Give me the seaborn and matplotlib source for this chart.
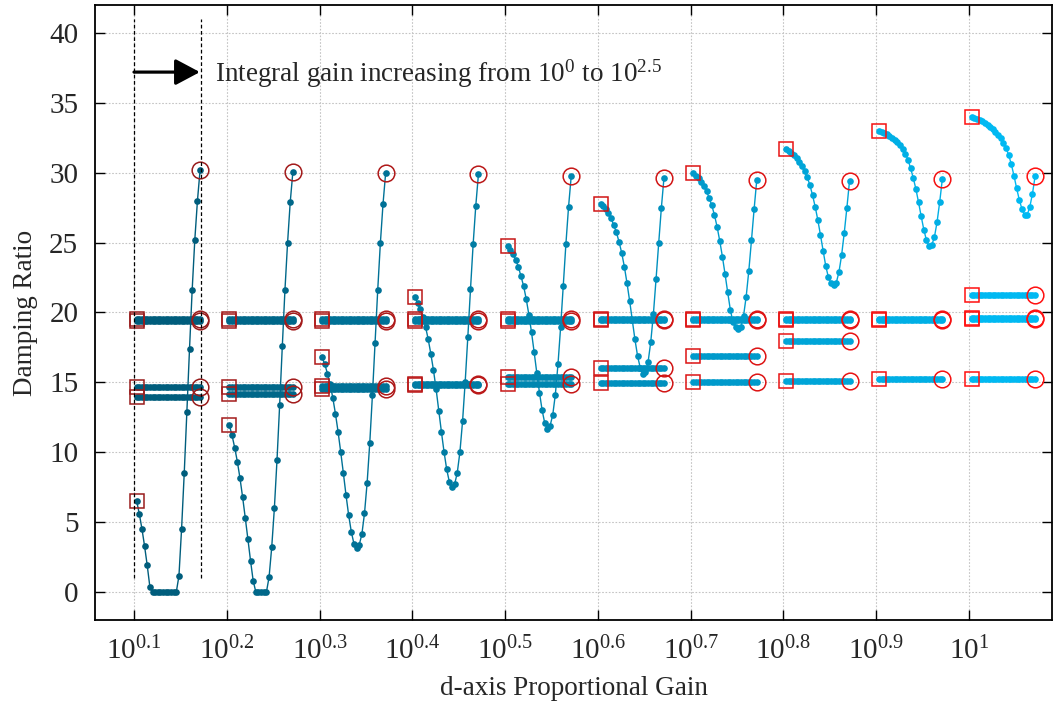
import numpy as np
import pandas as pd
import matplotlib
matplotlib.use("Agg")
import matplotlib.pyplot as plt
import matplotlib.colors as mcolors
import seaborn as sns

# ---------------- data ----------------
kp_exponents = [0.1, 0.2, 0.3, 0.4, 0.5, 0.6, 0.7, 0.8, 0.9, 1.0]
ki_exponents = [0.1, 0.2, 0.3, 0.4, 0.5, 0.6, 0.7, 0.8, 0.9, 1.0,
                1.1, 1.2, 1.3, 1.4, 1.5, 1.6, 1.7, 1.8, 1.9, 2.0,
                2.1, 2.2, 2.3, 2.4, 2.5]
tick_labels = [r"$10^{0.1}$", r"$10^{0.2}$", r"$10^{0.3}$", r"$10^{0.4}$",
               r"$10^{0.5}$", r"$10^{0.6}$", r"$10^{0.7}$", r"$10^{0.8}$",
               r"$10^{0.9}$", r"$10^{1}$"]

# varying branch (one per proportional gain), damping ratio vs integral gain
v_kp01 = [6.52, 5.60, 4.53, 3.29, 1.91, 0.38, 0, 0, 0, 0, 0, 0, 0, 0, 0, 0,
          1.15, 4.53, 8.50, 12.90, 17.40, 21.60, 25.20, 28.00, 30.20]
v_kp02 = [11.93, 11.20, 10.33, 9.33, 8.14, 6.78, 5.30, 3.77, 2.22, 0.79,
          0, 0, 0, 0, 0, 1.07, 3.20, 5.99, 9.45, 13.39, 17.57, 21.60, 25.00,
          27.90, 30.07]
v_kp03 = [16.78, 16.28, 15.63, 14.87, 13.91, 12.77, 11.48, 10.02, 8.52, 6.95,
          5.51, 4.32, 3.46, 3.15, 3.37, 4.13, 5.63, 7.83, 10.69, 14.10, 17.85,
          21.60, 24.96, 27.76, 29.98]
v_kp04 = [21.12, 20.67, 20.24, 19.69, 18.97, 18.09, 17.04, 15.87, 14.51, 12.98,
          11.46, 10.02, 8.78, 7.88, 7.52, 7.71, 8.54, 10.02, 12.22, 15.06,
          18.28, 21.67, 24.89, 27.64, 29.88]
v_kp05 = [24.77, 24.46, 24.15, 23.79, 23.27, 22.60, 21.89, 20.95, 19.83, 18.57,
          17.14, 15.66, 14.27, 13.01, 12.08, 11.69, 11.89, 12.65, 14.13, 16.30,
          18.97, 21.93, 24.92, 27.57, 29.74]
v_kp06 = [27.76, 27.59, 27.37, 27.11, 26.73, 26.25, 25.73, 25.06, 24.27, 23.29,
          22.12, 20.84, 19.47, 18.09, 16.90, 16.06, 15.58, 15.75, 16.47, 17.90,
          19.90, 22.39, 24.96, 27.47, 29.64]
v_kp07 = [29.95, 29.80, 29.60, 29.35, 29.05, 28.67, 28.20, 27.66, 26.97, 26.13,
          25.12, 24.00, 22.76, 21.45, 20.20, 19.30, 18.95, 18.85, 18.95, 19.76,
          21.14, 23.00, 25.17, 27.40, 29.48]
v_kp08 = [31.67, 31.57, 31.43, 31.24, 31.02, 30.76, 30.48, 30.10, 29.67, 29.12,
          28.40, 27.57, 26.62, 25.55, 24.43, 23.33, 22.52, 22.10, 22.00, 22.14,
          22.90, 24.10, 25.70, 27.50, 29.43]
v_kp09 = [33.00, 32.92, 32.85, 32.76, 32.64, 32.52, 32.37, 32.18, 31.97, 31.71,
          31.37, 30.94, 30.32, 29.63, 28.84, 27.89, 26.89, 25.93, 25.17, 24.74,
          24.83, 25.38, 26.46, 27.89, 29.53]
v_kp10 = [33.97, 33.93, 33.85, 33.78, 33.69, 33.57, 33.45, 33.28, 33.11, 32.92,
          32.71, 32.45, 32.14, 31.76, 31.28, 30.61, 29.80, 28.90, 28.08, 27.42,
          27.00, 26.98, 27.55, 28.50, 29.74]
varying_branches = [v_kp01, v_kp02, v_kp03, v_kp04, v_kp05,
                    v_kp06, v_kp07, v_kp08, v_kp09, v_kp10]

# branches whose damping ratio stays constant over the integral-gain sweep
flat_levels = [
    [19.40, 19.50, 14.68, 13.96],
    [19.40, 19.50, 14.68, 14.15],
    [19.40, 19.50, 14.55, 14.72],
    [19.40, 19.50, 14.80, 14.88],
    [19.42, 19.52, 15.42, 14.87],
    [19.45, 19.52, 16.06, 14.94],
    [19.45, 19.52, 16.88, 15.00],
    [19.47, 19.56, 17.98, 15.12],
    [19.45, 19.55, 15.24],
    [21.23, 19.55, 19.62, 15.24],
]

# ---------------- style ----------------
sns.set_theme(style="ticks")
plt.rcParams["font.family"] = ["Liberation Serif", "DejaVu Serif"]
plt.rcParams["mathtext.fontset"] = "custom"
plt.rcParams["mathtext.rm"] = "Liberation Serif"
plt.rcParams["mathtext.it"] = "Liberation Serif:italic"
plt.rcParams["mathtext.bf"] = "Liberation Serif:bold"

line_cmap = mcolors.LinearSegmentedColormap.from_list("teal", ["#005d7c", "#00b9f2"])
mark_cmap = mcolors.LinearSegmentedColormap.from_list("reds", ["#981c1c", "#ff1010"])

fig = plt.figure(figsize=(10.57, 7.05), dpi=100)
ax = fig.add_axes([0.0899, 0.1206, 0.9054, 0.8723])
ax.set_xscale("log")

spread = 0.0285  # horizontal spread (decades) per decade of integral gain
n_groups = len(kp_exponents)
for g, kp in enumerate(kp_exponents):
    xs = [10 ** (kp + spread * k) for k in ki_exponents]
    rows = []
    for i, yv in enumerate(varying_branches[g]):
        rows.append({"x": xs[i], "y": yv, "branch": "var"})
    for b, lvl in enumerate(flat_levels[g]):
        for i in range(len(xs)):
            rows.append({"x": xs[i], "y": lvl, "branch": f"flat{b}"})
    df = pd.DataFrame(rows)
    c = line_cmap(g / (n_groups - 1))
    mc = mark_cmap(g / (n_groups - 1))
    sns.lineplot(data=df, x="x", y="y", units="branch", estimator=None,
                 sort=False, color=c, marker="o", markersize=4.8,
                 markeredgewidth=0, linewidth=1.0, legend=False, ax=ax,
                 zorder=3)
    first = df.groupby("branch").first()
    last = df.groupby("branch").last()
    ax.plot(first["x"], first["y"], "s", mfc="none", mec=mc, ms=9.5,
            mew=1.1, zorder=4)
    ax.plot(last["x"], last["y"], "o", mfc="none", mec=mc, ms=12,
            mew=1.1, zorder=4)

# annotation: dashed guides + arrow + text
for xv in [10 ** 0.1, 10 ** 0.172]:
    ax.plot([xv, xv], [1, 41], color="black", lw=0.9,
            linestyle=(0, (3, 2)), zorder=5)
ax.annotate("", xy=(10 ** 0.171, 37.2), xytext=(10 ** 0.1, 37.2),
            arrowprops=dict(arrowstyle="-|>,head_length=0.75,head_width=0.4",
                            lw=2.3, color="black", mutation_scale=20,
                            shrinkA=0, shrinkB=0), zorder=6)
ax.text(10 ** 0.187, 36.5, r"Integral gain increasing from $10^{0}$ to $10^{2.5}$",
        fontsize=19.5, va="baseline", ha="left", zorder=6)

# axes
ax.set_xlim(10 ** 0.058, 10 ** 1.0895)
ax.set_ylim(-2, 42)
ax.set_xticks([10 ** k for k in kp_exponents])
ax.set_xticklabels(tick_labels)
ax.xaxis.set_minor_locator(matplotlib.ticker.NullLocator())
ax.set_yticks([0, 5, 10, 15, 20, 25, 30, 35, 40])
ax.grid(True, which="major", linestyle=(0, (1.5, 1.5)), color="#c4c4c4", lw=0.8)
ax.set_axisbelow(True)
ax.tick_params(direction="in", length=7, width=1, top=True, right=True,
               labelsize=21, color="black")
ax.tick_params(axis="y", pad=12)
ax.tick_params(axis="x", pad=12)
for s in ax.spines.values():
    s.set_linewidth(1.3)
    s.set_color("black")
ax.set_xlabel("d-axis Proportional Gain", fontsize=19.5, labelpad=8)
ax.set_ylabel("Damping Ratio", fontsize=19.5, labelpad=8)

fig.savefig("out.png", dpi=100)
